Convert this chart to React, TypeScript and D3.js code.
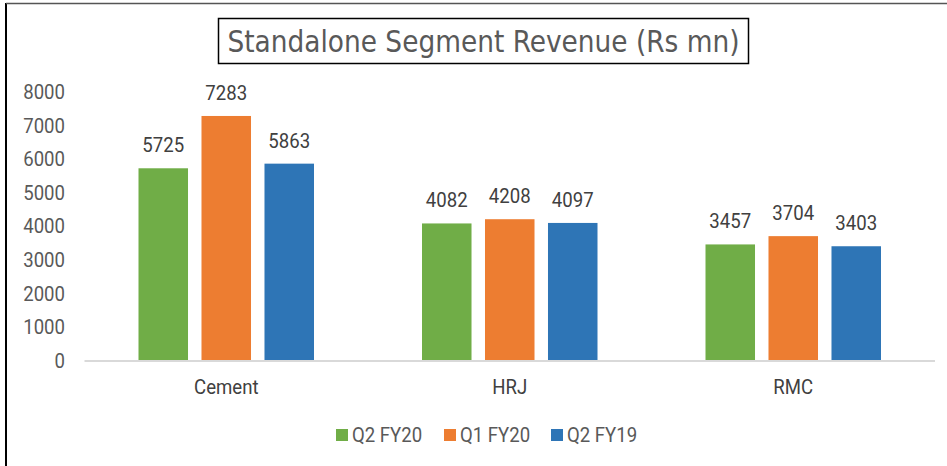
import React from "react";
import * as d3 from "d3";

const categories = ["Cement", "HRJ", "RMC"];
const seriesNames = ["Q2 FY20", "Q1 FY20", "Q2 FY19"];
const q2fy20 = [5725, 4082, 3457];
const q1fy20 = [7283, 4208, 3704];
const q2fy19 = [5863, 4097, 3403];
const yTicks = [0, 1000, 2000, 3000, 4000, 5000, 6000, 7000, 8000];
const colors = ["#70AD47", "#ED7D31", "#2E75B6"];

const W = 947;
const H = 466;
const FONT = "Roboto, 'Noto Sans', sans-serif";

function CText({ x, y, anchor = "middle", size = 20, fill = "#404040", dy, children }: any) {
  return (
    <g transform={`translate(${x},${y}) scale(0.93,1)`}>
      <text x={0} y={0} dy={dy} textAnchor={anchor} fontSize={size} fill={fill} fontFamily={FONT}>
        {children}
      </text>
    </g>
  );
}

export default function App() {
  const series = [q2fy20, q1fy20, q2fy19];
  const x0 = d3.scaleBand().domain(categories).range([84.5, 935]).paddingInner(0).paddingOuter(0);
  const groupPad = 54;
  const x1 = d3
    .scaleBand()
    .domain(seriesNames)
    .range([0, x0.bandwidth() - 2 * groupPad])
    .paddingInner(0.214)
    .paddingOuter(0);
  const y = d3.scaleLinear().domain([0, 8000]).range([360.5, 91.9]);

  return (
    <svg width={W} height={H} style={{ position: "absolute", left: 0, top: 0, background: "#fff" }}>
      <rect x={0} y={0} width={W} height={H} fill="#fff" />
      {/* outer frame */}
      <line x1={6} y1={3} x2={6} y2={H} stroke="#000" strokeWidth={2} />
      <line x1={6} y1={3.5} x2={W} y2={3.5} stroke="#555" strokeWidth={1.5} />
      {/* title */}
      <rect x={218.5} y={18.5} width={530} height={45} fill="#fff" stroke="#000" strokeWidth={1.5} />
      <text
        x={483.5}
        y={52}
        textAnchor="middle"
        fontSize={30}
        fill="#595959"
        fontFamily="'Liberation Sans Narrow', 'DejaVu Sans Condensed', sans-serif"
        textLength={512}
        lengthAdjust="spacingAndGlyphs"
      >
        Standalone Segment Revenue (Rs mn)
      </text>
      {/* y tick labels */}
      {yTicks.map((t) => (
        <CText key={t} x={65} y={y(t)} dy="0.36em" anchor="end" fill="#595959">
          {t}
        </CText>
      ))}
      {/* bars */}
      {categories.map((c, ci) => (
        <g key={c} transform={`translate(${(x0(c) as number) + groupPad},0)`}>
          {seriesNames.map((s, si) => {
            const v = series[si][ci];
            const bx = x1(s) as number;
            return (
              <g key={s}>
                <rect x={bx} y={y(v)} width={x1.bandwidth()} height={y(0) - y(v)} fill={colors[si]} />
                <CText x={bx + x1.bandwidth() / 2} y={y(v) - 16}>
                  {v}
                </CText>
              </g>
            );
          })}
        </g>
      ))}
      {/* axis line */}
      <line x1={84.5} x2={935} y1={361} y2={361} stroke="#D9D9D9" strokeWidth={2} />
      {/* category labels */}
      {categories.map((c) => (
        <CText key={c} x={(x0(c) as number) + x0.bandwidth() / 2} y={394}>
          {c}
        </CText>
      ))}
      {/* legend */}
      {seriesNames.map((s, i) => {
        const lx = [336, 444, 551][i];
        return (
          <g key={s}>
            <rect x={lx} y={429} width={12} height={12} fill={colors[i]} />
            <CText x={lx + 16} y={442} anchor="start" fill="#595959">
              {s}
            </CText>
          </g>
        );
      })}
    </svg>
  );
}
